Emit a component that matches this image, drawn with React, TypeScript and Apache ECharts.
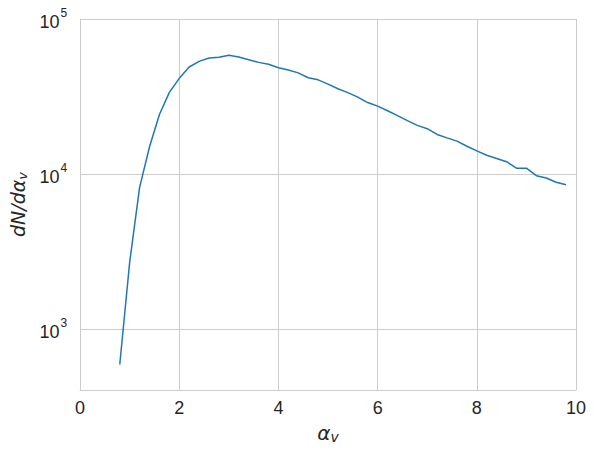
import React, { useEffect, useRef } from "react";
import * as echarts from "echarts";

const alphaV: number[] = [0.8, 1.0, 1.2, 1.4, 1.6, 1.8, 2.0, 2.2, 2.4, 2.6, 2.8, 3.0, 3.2, 3.4, 3.6, 3.8, 4.0, 4.2, 4.4, 4.6, 4.8, 5.0, 5.2, 5.4, 5.6, 5.8, 6.0, 6.2, 6.4, 6.6, 6.8, 7.0, 7.2, 7.4, 7.6, 7.8, 8.0, 8.2, 8.4, 8.6, 8.8, 9.0, 9.2, 9.4, 9.6, 9.8];
const dNdAlpha: number[] = [590, 2700, 8200, 15000, 24200, 33600, 41400, 49000, 53300, 56000, 56600, 58300, 56800, 54600, 52500, 51000, 48500, 46900, 44900, 41800, 40500, 38000, 35500, 33500, 31300, 28900, 27400, 25600, 23800, 22100, 20600, 19600, 18000, 17100, 16300, 15100, 14100, 13200, 12600, 12000, 10900, 10900, 9750, 9420, 8850, 8530];
const xTicks: number[] = [0, 2, 4, 6, 8, 10];
const yMin = 404;
const yMax = 100000;

const TEXT = "#262626";
const GRID = "#cccccc";

export default function App() {
  const ref = useRef<HTMLDivElement>(null);
  useEffect(() => {
    if (!ref.current) return;
    const chart = echarts.init(ref.current, null, { renderer: "svg" });
    chart.setOption({
      animation: false,
      grid: { left: 79, right: 18, top: 19, bottom: 64 },
      xAxis: {
        type: "value",
        min: xTicks[0],
        max: xTicks[xTicks.length - 1],
        interval: 2,
        axisLine: { show: true, lineStyle: { color: GRID, width: 1 } },
        axisTick: { show: false },
        splitLine: { show: true, lineStyle: { color: GRID, width: 1 } },
        axisLabel: { color: TEXT, fontSize: 18, fontFamily: "Liberation Sans", margin: 9 },
        name: "{a|α}{s|v}",
        nameLocation: "middle",
        nameGap: 31,
        nameTextStyle: {
          rich: {
            a: { fontSize: 20, fontStyle: "italic", fontFamily: "DejaVu Sans", color: TEXT },
            s: { fontSize: 14, fontStyle: "italic", fontFamily: "DejaVu Sans", color: TEXT, verticalAlign: "bottom", padding: [9, 0, 0, 0] },
          },
        },
      },
      yAxis: {
        type: "log",
        logBase: 10,
        min: yMin,
        max: yMax,
        axisLine: { show: true, lineStyle: { color: GRID, width: 1 } },
        axisTick: { show: false },
        minorTick: { show: false },
        splitLine: { show: true, lineStyle: { color: GRID, width: 1 } },
        axisLabel: {
          margin: 13,
          formatter: (v: number) => {
            const e = Math.log10(v);
            if (Math.abs(e - Math.round(e)) > 1e-6) return "";
            return "{b|10}{s|" + Math.round(e) + "}";
          },
          rich: {
            b: { fontSize: 18, fontFamily: "Liberation Sans", color: TEXT, padding: [6, 0, 0, 0] },
            s: { fontSize: 12, fontFamily: "Liberation Sans", color: TEXT, verticalAlign: "top", padding: [0, 0, 10, 1] },
          },
        },
        name: "{a|dN/dα}{s|v}",
        nameLocation: "middle",
        nameRotate: 90,
        nameGap: 44,
        nameTextStyle: {
          rich: {
            a: { fontSize: 19, fontStyle: "italic", fontFamily: "DejaVu Sans", color: TEXT },
            s: { fontSize: 13, fontStyle: "italic", fontFamily: "DejaVu Sans", color: TEXT, verticalAlign: "bottom", padding: [9, 0, 0, 0] },
          },
        },
      },
      series: [
        {
          type: "line",
          data: alphaV.map((x, i) => [x, dNdAlpha[i]]),
          showSymbol: false,
          symbol: "none",
          lineStyle: { color: "#1f77b4", width: 1.5 },
        },
      ],
    });
    return () => chart.dispose();
  }, []);
  return <div ref={ref} style={{ width: 594, height: 454, margin: -8 }} />;
}
